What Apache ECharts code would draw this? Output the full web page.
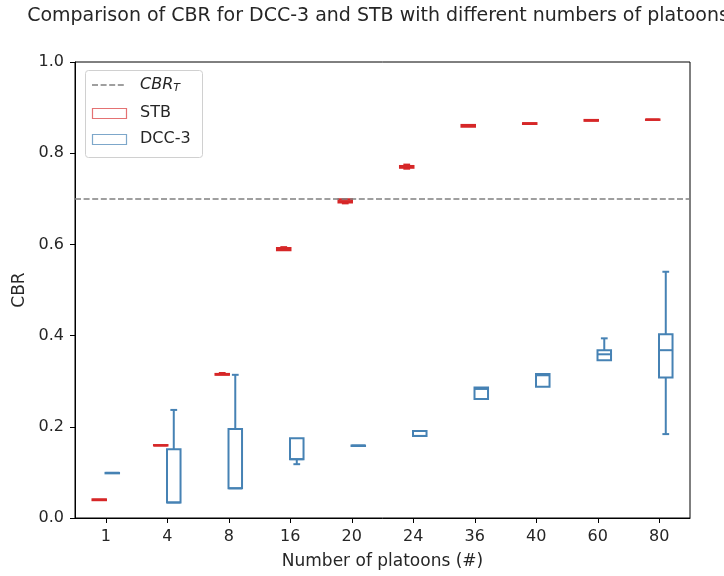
<!DOCTYPE html>
<html><head><meta charset="utf-8">
<script src="https://cdn.jsdelivr.net/npm/echarts@6/dist/echarts.min.js"></script>
<style>html,body{margin:0;padding:0;background:#fff}#c{width:724px;height:576px}</style>
</head><body><div id="c"></div>
<script>
const categories = ['1','4','8','16','20','24','36','40','60','80'];
// [low, q1, median, q3, high]
const stbValues = [
  [0.039,0.039,0.040,0.041,0.041],
  [0.158,0.159,0.159,0.160,0.160],
  [0.313,0.314,0.315,0.316,0.318],
  [0.586,0.587,0.589,0.592,0.594],
  [0.690,0.692,0.695,0.699,0.700],
  [0.766,0.768,0.770,0.772,0.775],
  [0.857,0.858,0.860,0.862,0.863],
  [0.864,0.864,0.865,0.866,0.866],
  [0.871,0.871,0.872,0.873,0.873],
  [0.873,0.873,0.874,0.874,0.875]
];
const dccValues = [
  [0.099,0.099,0.099,0.099,0.099],
  [0.034,0.034,0.034,0.151,0.237],
  [0.065,0.065,0.065,0.195,0.314],
  [0.118,0.129,0.129,0.175,0.175],
  [0.159,0.159,0.159,0.159,0.159],
  [0.180,0.180,0.180,0.191,0.191],
  [0.261,0.261,0.283,0.286,0.286],
  [0.288,0.288,0.313,0.316,0.316],
  [0.346,0.346,0.359,0.368,0.394],
  [0.184,0.308,0.368,0.403,0.540]
];
const cbrThreshold = 0.7;
const yTicks = [0,0.2,0.4,0.6,0.8,1.0];

const STB_COLOR = '#d62728';
const DCC_COLOR = '#4682b4';
const FONT = '"DejaVu Sans"';
const TXT = '#262626';

function toData(vals){ return vals.map((v,i)=>[i].concat(v)); }

function boxRenderer(offsetFrac, color){
  return function(params, api){
    const xi = api.value(0);
    const lo = api.coord([xi, api.value(1)]);
    const q1 = api.coord([xi, api.value(2)]);
    const md = api.coord([xi, api.value(3)]);
    const q3 = api.coord([xi, api.value(4)]);
    const hi = api.coord([xi, api.value(5)]);
    const band = api.size([1,0])[0];
    const cx = lo[0] + offsetFrac*band;
    const w = 0.22*band;
    const cw = w/2;
    const st = {stroke: color, lineWidth: 2, fill: null};
    const ch = [];
    ch.push({type:'rect', shape:{x:cx-w/2, y:q3[1], width:w, height:Math.max(q1[1]-q3[1],0.5)}, style:{stroke:color,lineWidth:2,fill:'rgba(0,0,0,0)'}});
    ch.push({type:'line', shape:{x1:cx-w/2,y1:md[1],x2:cx+w/2,y2:md[1]}, style:st});
    if (hi[1] < q3[1] - 0.5) {
      ch.push({type:'line', shape:{x1:cx,y1:q3[1],x2:cx,y2:hi[1]}, style:st});
      ch.push({type:'line', shape:{x1:cx-cw/2,y1:hi[1],x2:cx+cw/2,y2:hi[1]}, style:st});
    }
    if (lo[1] > q1[1] + 0.5) {
      ch.push({type:'line', shape:{x1:cx,y1:q1[1],x2:cx,y2:lo[1]}, style:st});
      ch.push({type:'line', shape:{x1:cx-cw/2,y1:lo[1],x2:cx+cw/2,y2:lo[1]}, style:st});
    }
    return {type:'group', children: ch};
  };
}

const chart = echarts.init(document.getElementById('c'), null, {renderer:'canvas'});
chart.setOption({
  animation: false,
  backgroundColor: '#fff',
  title: {
    text: 'Comparison of CBR for DCC-3 and STB with different numbers of platoons',
    left: 373, top: 2, textAlign: 'center',
    textStyle: {fontFamily: FONT, fontSize: 19, fontWeight: 'normal', color: TXT}
  },
  grid: {left: 75, right: 34, top: 62, bottom: 58, show: true, borderColor: '#000', borderWidth: 1, backgroundColor: '#fff'},
  xAxis: {
    type: 'category', data: categories,
    name: 'Number of platoons (#)', nameLocation: 'middle', nameGap: 35,
    nameTextStyle: {fontFamily: FONT, fontSize: 17, color: TXT},
    axisLine: {show: true, lineStyle: {color: '#000', width: 1}},
    axisTick: {show: true, alignWithLabel: true, length: 5, lineStyle: {color: '#000'}},
    axisLabel: {fontFamily: FONT, fontSize: 16, color: TXT, margin: 11},
    splitLine: {show: false}
  },
  yAxis: {
    type: 'value', min: 0, max: 1, interval: 0.2,
    name: 'CBR', nameLocation: 'middle', nameGap: 44,
    nameTextStyle: {fontFamily: FONT, fontSize: 17, color: TXT},
    axisLine: {show: true, lineStyle: {color: '#000', width: 1}},
    axisTick: {show: true, length: 5, lineStyle: {color: '#000'}},
    axisLabel: {fontFamily: FONT, fontSize: 16, color: TXT, margin: 11, formatter: v => (yTicks.some(t=>Math.abs(t-v)<1e-9) ? v.toFixed(1) : '')},
    splitLine: {show: false}
  },
  series: [
    {
      type: 'custom', name: 'STB', renderItem: boxRenderer(-0.106, STB_COLOR),
      data: toData(stbValues), encode: {x: 0, y: [1,2,3,4,5]}, z: 3,
      markLine: {
        silent: true, symbol: 'none', label: {show: false},
        lineStyle: {color: '#808080', type: [6,2.6], width: 1.6},
        data: [{yAxis: cbrThreshold}]
      }
    },
    {
      type: 'custom', name: 'DCC-3', renderItem: boxRenderer(0.106, DCC_COLOR),
      data: toData(dccValues), encode: {x: 0, y: [1,2,3,4,5]}, z: 3
    }
  ],
  graphic: [
    {type:'rect', z: 100, shape:{x:85.5, y:70.5, width:117, height:87, r:3}, style:{fill:'rgba(255,255,255,0.85)', stroke:'#d0d0d0', lineWidth:1}},
    {type:'line', z: 101, shape:{x1:92, y1:85, x2:126, y2:85}, style:{stroke:'#808080', lineWidth:1.6, lineDash:[6,2.6]}},
    {type:'text', z: 101, x: 140, y: 85, style:{
      text: '{i|CBR}{s|T}', verticalAlign: 'middle', fill: TXT,
      rich: {i:{fontFamily: FONT, fontSize: 16, fontStyle:'italic', fill: TXT}, s:{fontFamily: FONT, fontSize: 11, fontStyle:'italic', fill: TXT, padding:[7,0,0,0]}}
    }},
    {type:'rect', z: 101, shape:{x:92.5, y:108.5, width:34, height:10}, style:{fill:'rgba(0,0,0,0)', stroke:'rgba(214,39,40,0.65)', lineWidth:1.2}},
    {type:'text', z: 101, x: 140, y: 113, style:{text:'STB', fontFamily: FONT, fontSize: 16, fill: TXT, verticalAlign:'middle'}},
    {type:'rect', z: 101, shape:{x:92.5, y:134.5, width:34, height:10}, style:{fill:'rgba(0,0,0,0)', stroke:'rgba(70,130,180,0.7)', lineWidth:1.2}},
    {type:'text', z: 101, x: 140, y: 139, style:{text:'DCC-3', fontFamily: FONT, fontSize: 16, fill: TXT, verticalAlign:'middle'}}
  ]
});
</script></body></html>
